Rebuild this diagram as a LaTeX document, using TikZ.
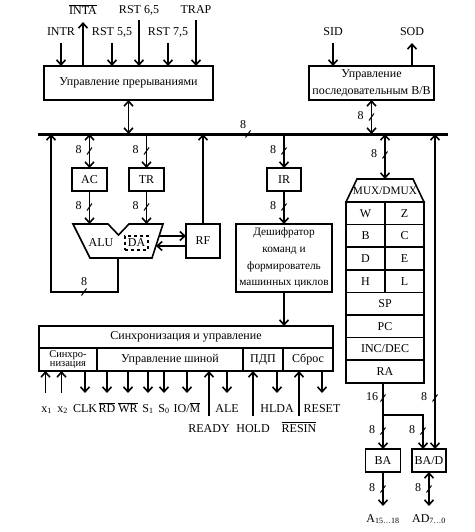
\documentclass[tikz,border=0pt]{standalone}
\usepackage{fontspec}
\setmainfont{Liberation Serif}
\usetikzlibrary{arrows.meta}

\tikzset{
  blk/.style={draw, line width=1.6pt, inner sep=0pt, outer sep=0pt, align=center},
  reg/.style={blk, minimum height=22.6},
  lbl/.style={anchor=base, inner sep=0pt},
  sig/.style={line width=1.6pt, -{Straight Barb[length=5pt,width=9pt]}},
  bisig/.style={line width=1.6pt, {Straight Barb[length=5pt,width=9pt]}-{Straight Barb[length=5pt,width=9pt]}},
  bus/.style={line width=3pt},
  pics/wd/.style={code={
    \draw[line width=1pt] (-2.5,3.5) -- (2.5,-3.5);
    \node[font=\fontsize{12}{12}\selectfont] at (-11,-1) {#1};
  }},
  pics/wdh/.style={code={
    \draw[line width=1pt] (-2.5,3.5) -- (2.5,-3.5);
    \node[font=\fontsize{12}{12}\selectfont] at (-5,-9) {#1};
  }},
  pics/wdt/.style={code={
    \draw[line width=1pt] (-2.5,3.5) -- (2.5,-3.5);
    \node[font=\fontsize{12}{12}\selectfont] at (0,-10) {#1};
  }},
}

\begin{document}
\begin{tikzpicture}[x=1pt, y=-1pt, font=\fontsize{12}{14}\selectfont, line width=1.6pt]
\useasboundingbox (0,0) rectangle (474,532);

% Interrupt control
\node[blk, minimum width=169, minimum height=34] (intbox) at (128.5,83) {Управление прерываниями};
\node[lbl] (intr) at (61,36) {INTR};
\node[lbl] (inta) at (83,14.5) {$\overline{\mbox{INTA}}$};
\node[lbl] (rst55) at (112,36) {RST 5,5};
\node[lbl] (rst65) at (139,14) {RST 6,5};
\node[lbl] (rst75) at (168,36) {RST 7,5};
\node[lbl] (trap) at (196,14) {TRAP};
\draw[sig] ([yshift=-7pt]intr.base) -- (intr |- intbox.north);
\draw[sig] (inta |- intbox.north) -- ([yshift=-7.5pt]inta.base);
\draw[sig] ([yshift=-7pt]rst55.base) -- (rst55 |- intbox.north);
\draw[sig] ([yshift=-6pt]rst65.base) -- (rst65 |- intbox.north);
\draw[sig] ([yshift=-7pt]rst75.base) -- (rst75 |- intbox.north);
\draw[sig] ([yshift=-6pt]trap.base) -- (trap |- intbox.north);

% Serial I/O control
\node[blk, minimum width=125, minimum height=34, font=\fontsize{12}{17}\selectfont] (sio) at (371.5,83) {Управление\\последовательным В/В};
\node[lbl] (sid) at (333,36) {SID};
\node[lbl] (sod) at (412,36) {SOD};
\draw[sig] ([yshift=-7pt]sid.base) -- (sid |- sio.north);
\draw[sig] (sod |- sio.north) -- ([yshift=-7pt]sod.base);

% Internal bus
\coordinate (busL) at (38,134);
\coordinate (busR) at (448,134);
\draw[bus] (busL) -- (busR);
\pic at (248,134) {wdh=8};

\draw[bisig] (intbox.south) -- (intbox.south |- busL);
\draw[bisig] (sio.south) -- (sio.south |- busL);
\pic at (371.5,117) {wd=8};

% Accumulator, temp register, ALU
\node[blk, minimum width=35, minimum height=23] (ac) at (89.5,179.5) {AC};
\node[blk, minimum width=35, minimum height=23] (tr) at (146.5,179.5) {TR};
\draw (73,224) -- (108,224) -- (118.5,235) -- (129,224) -- (163,224)
  -- (152,258) -- (90,258) -- cycle;
\coordinate (alutop) at (118,224);
\coordinate (aluout) at (118,258);
\node (alu) at (101,243) {ALU};
\node[blk, dashed, minimum width=23, minimum height=14] (da) at (136.5,243) {DA};
\node[blk, minimum width=34, minimum height=34] (rf) at (203,241) {RF};
\coordinate (alur1) at (159,236);
\coordinate (alur2) at (156,246);

\draw[bisig] (ac.north |- busL) -- (ac.north);
\pic at (89.5,151) {wd=8};
\draw[sig] (tr.north |- busL) -- (tr.north);
\pic at (146.5,151) {wd=8};
\draw[sig] (ac.south) -- (ac.south |- alutop);
\pic at (89.5,207) {wd=8};
\draw[sig] (tr.south) -- (tr.south |- alutop);
\pic at (146.5,207) {wd=8};
\draw[sig] (alur1) -- (alur1 -| rf.west);
\draw[sig] (rf.west |- alur2) -- (alur2);
\draw[sig] (rf.north) -- (rf.north |- busL);

% ALU result back to bus
\coordinate (fb) at (51,292);
\draw[sig] (aluout) |- (fb) -- (fb |- busL);
\pic at (84,292) {wdt=8};

% Instruction register and decoder
\node[blk, minimum width=34, minimum height=23] (ir) at (284,179.5) {IR};
\node[blk, minimum width=96, minimum height=68, font=\fontsize{11.3}{16.7}\selectfont] (dec) at (284,258)
  {Дешифратор\\команд и\\формирователь\\машинных циклов};
\draw[sig] (ir.north |- busL) -- (ir.north);
\pic at (284,151) {wd=8};
\draw[sig] (ir.south) -- (dec.north);
\pic at (284,207) {wd=8};

% Register array
\draw (357,179) -- (413,179) -- (424,202) -- (346,202) -- cycle;
\coordinate (muxtop) at (385,179);
\node[font=\fontsize{11.3}{13}\selectfont] (mux) at (385,191) {MUX/DMUX};
\foreach \l/\r [count=\i from 0] in {W/Z,B/C,D/E,H/L} {
  \node[reg, minimum width=39] (r\l) at (365.5,213.3+22.6*\i) {\l};
  \node[reg, minimum width=39] (r\r) at (404.5,213.3+22.6*\i) {\r};
}
\node[reg, minimum width=78] (sp) at (385,303.7) {SP};
\node[reg, minimum width=78] (pc) at (385,326.3) {PC};
\node[reg, minimum width=78] (incdec) at (385,348.9) {INC/DEC};
\node[reg, minimum width=78] (ra) at (385,371.5) {RA};
\draw[bisig] (muxtop |- busL) -- (muxtop);
\pic at (385,155) {wd=8};

% Address and data buffers
\node[blk, minimum width=35, minimum height=23] (ba) at (383,460.5) {BA};
\node[blk, minimum width=34, minimum height=23] (bad) at (429,460.5) {BA/D};
\coordinate (br) at (383,415);
\coordinate (br2) at (423,415);
\coordinate (rv) at (435,300);
\draw[sig] (ba.north |- ra.south) -- (ba.north);
\pic at (383,398) {wd=16};
\pic at (383,431) {wd=8};
\draw[sig] (br) -- (br2) -- (br2 |- bad.north);
\pic at (423,431) {wd=8};
\draw[bisig] (rv |- busL) -- (rv |- bad.north);
\pic at (435,398) {wd=8};
\node[lbl] (aout) at (383,522) {A\textsubscript{15\ldots18}};
\node[lbl] (adout) at (429,522) {AD\textsubscript{7\ldots0}};
\draw[sig] (ba.south) -- ([yshift=16pt]aout.base);
\pic at (383,489) {wd=8};
\draw[bisig] (bad.south) -- ([yshift=16pt]adout.base);
\pic at (429,489) {wd=8};

% Timing and control
\node[blk, minimum width=294, minimum height=22] (sync) at (186,337) {Синхронизация и управление};
\node[blk, minimum width=58, minimum height=23, font=\fontsize{10.5}{9.5}\selectfont] (ssync) at (68,359.5) {Синхро-\\низация};
\node[blk, minimum width=146, minimum height=23] (sbus) at (170,359.5) {Управление шиной};
\node[blk, minimum width=40, minimum height=23] (sdma) at (263,359.5) {ПДП};
\node[blk, minimum width=50, minimum height=23] (srst) at (308,359.5) {Сброс};
\draw[sig] (dec.south) -- (dec.south |- sync.north);

\node[lbl] (x1) at (46.5,412) {x\textsubscript{1}};
\node[lbl] (x2) at (62.5,412) {x\textsubscript{2}};
\node[lbl] (clk) at (85,412) {CLK};
\node[lbl] (rd) at (107,412) {$\overline{\mbox{RD}}$};
\node[lbl] (wr) at (128,412) {$\overline{\mbox{WR}}$};
\node[lbl] (s1) at (148,412) {S\textsubscript{1}};
\node[lbl] (s0) at (164,412) {S\textsubscript{0}};
\node[lbl] (iom) at (187,412) {IO/$\overline{\mbox{M}}$};
\node[lbl] (ale) at (227,412) {ALE};
\node[lbl] (hlda) at (277,412) {HLDA};
\node[lbl] (reset) at (322,412) {RESET};
\node[lbl] (ready) at (209,432) {READY};
\node[lbl] (hold) at (253,432) {HOLD};
\node[lbl] (resin) at (299,432) {$\overline{\mbox{RESIN}}$};

\draw[sig] ([xshift=-1pt,yshift=19pt]x1.base) -- ([xshift=-1pt]x1 |- ssync.south);
\draw[sig] ([xshift=-1pt,yshift=19pt]x2.base) -- ([xshift=-1pt]x2 |- ssync.south);
\draw[sig] (clk |- sbus.south) -- ([yshift=19pt]clk.base);
\draw[sig] (rd |- sbus.south) -- ([yshift=19pt]rd.base);
\draw[sig] (wr |- sbus.south) -- ([yshift=19pt]wr.base);
\draw[sig] (s1 |- sbus.south) -- ([yshift=19pt]s1.base);
\draw[sig] (s0 |- sbus.south) -- ([yshift=19pt]s0.base);
\draw[sig] (iom |- sbus.south) -- ([yshift=19pt]iom.base);
\draw[sig] ([yshift=16pt]ready.base) -- (ready |- sbus.south);
\draw[sig] (ale |- sbus.south) -- ([yshift=19pt]ale.base);
\draw[sig] ([yshift=16pt]hold.base) -- (hold |- sdma.south);
\draw[sig] (hlda |- sdma.south) -- ([yshift=19pt]hlda.base);
\draw[sig] ([yshift=16pt]resin.base) -- (resin |- srst.south);
\draw[sig] (reset |- srst.south) -- ([yshift=19pt]reset.base);
\end{tikzpicture}
\end{document}
